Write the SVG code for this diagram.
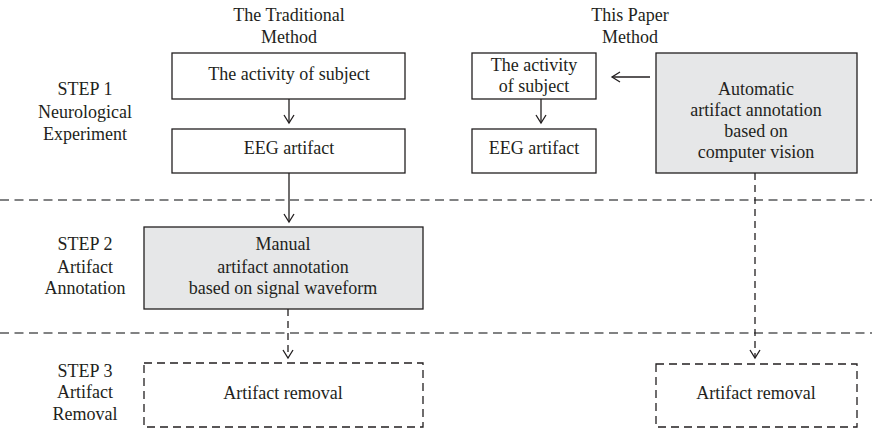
<svg xmlns="http://www.w3.org/2000/svg" width="872" height="430" viewBox="0 0 872 430">
<style>
text{font-family:"Liberation Serif","Times New Roman",serif;font-size:18px;fill:#231f20;text-anchor:middle}
.box{fill:#fff;stroke:#231f20;stroke-width:1.3}
.gray{fill:#e6e7e8;stroke:#231f20;stroke-width:1.3}
.dbox{fill:none;stroke:#231f20;stroke-width:1.3;stroke-dasharray:8 5}
.sep{stroke:#58595b;stroke-width:1.4;stroke-dasharray:9 5.5;fill:none}
.c{stroke:#231f20;stroke-width:1.3;fill:none}
.cd{stroke:#231f20;stroke-width:1.3;fill:none;stroke-dasharray:7 5}
</style>
<defs>
<marker id="ah" markerWidth="12" markerHeight="12" refX="10" refY="6" orient="auto" markerUnits="userSpaceOnUse">
<path d="M2,1 L10,6 L2,11" fill="none" stroke="#231f20" stroke-width="1.3"/>
</marker>
</defs>
<g id="separators">
<line class="sep" x1="0" y1="200" x2="872" y2="200"/>
<line class="sep" x1="0" y1="333" x2="872" y2="333"/>
</g>
<g id="headers">
<text x="289" y="21">The Traditional</text>
<text x="289" y="43">Method</text>
<text x="630" y="21">This Paper</text>
<text x="630" y="43">Method</text>
</g>
<g id="step1"><text x="85" y="95">STEP 1</text><text x="85" y="118">Neurological</text><text x="85" y="140">Experiment</text></g>
<g id="step2"><text x="85" y="250">STEP 2</text><text x="85" y="273">Artifact</text><text x="85" y="294">Annotation</text></g>
<g id="step3"><text x="85" y="377">STEP 3</text><text x="85" y="398">Artifact</text><text x="85" y="420">Removal</text></g>
<g id="trad-activity"><rect class="box" x="172" y="53" width="233" height="46"/><text x="289" y="80">The activity of subject</text></g>
<g id="trad-eeg"><rect class="box" x="172" y="129" width="233" height="44"/><text x="289" y="154">EEG artifact</text></g>
<g id="manual"><rect class="gray" x="144" y="227" width="279" height="82"/><text x="283" y="250">Manual</text><text x="283" y="273">artifact annotation</text><text x="283" y="294">based on signal waveform</text></g>
<g id="trad-removal"><rect class="dbox" x="144" y="363" width="279" height="64"/><text x="283" y="399">Artifact removal</text></g>
<g id="new-activity"><rect class="box" x="472" y="53" width="124" height="46"/><text x="534" y="71">The activity</text><text x="534" y="92">of subject</text></g>
<g id="new-eeg"><rect class="box" x="472" y="129" width="124" height="44"/><text x="534" y="154">EEG artifact</text></g>
<g id="auto"><rect class="gray" x="656" y="53" width="201" height="120"/><text x="756" y="95">Automatic</text><text x="756" y="116">artifact annotation</text><text x="756" y="137">based on</text><text x="756" y="158">computer vision</text></g>
<g id="new-removal"><rect class="dbox" x="656" y="364" width="201" height="63"/><text x="756" y="399">Artifact removal</text></g>
<g id="connectors">
<line class="c" x1="289" y1="99" x2="289" y2="123" marker-end="url(#ah)"/>
<line class="c" x1="289" y1="173" x2="289" y2="222" marker-end="url(#ah)"/>
<line class="cd" x1="288" y1="309" x2="288" y2="358" marker-end="url(#ah)"/>
<line class="c" x1="541" y1="99" x2="541" y2="123" marker-end="url(#ah)"/>
<line class="c" x1="650" y1="77" x2="612" y2="77" marker-end="url(#ah)"/>
<line class="cd" x1="755" y1="173" x2="755" y2="358" marker-end="url(#ah)"/>
</g>
</svg>
